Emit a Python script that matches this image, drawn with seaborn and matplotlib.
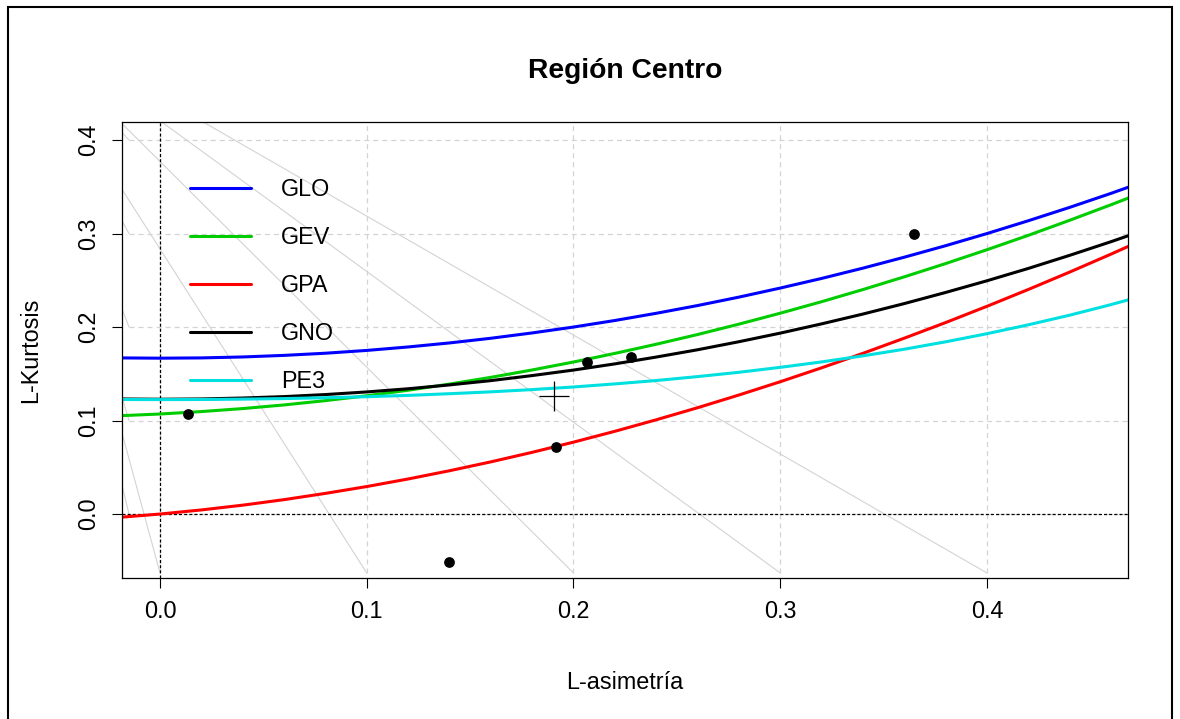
import numpy as np
import pandas as pd
import matplotlib
matplotlib.use("Agg")
import matplotlib.pyplot as plt
import seaborn as sns
from matplotlib.patches import Rectangle

# Curvas teóricas del diagrama de momentos L
tau3 = [-0.02, 0.00, 0.02, 0.04, 0.06, 0.08, 0.10, 0.12, 0.14, 0.16, 0.18, 0.20, 0.22,
        0.24, 0.26, 0.28, 0.30, 0.32, 0.34, 0.36, 0.38, 0.40, 0.42, 0.44, 0.46, 0.48]
glo = [0.1670, 0.1667, 0.1670, 0.1680, 0.1697, 0.1720, 0.1750, 0.1787, 0.1830, 0.1880, 0.1937, 0.2000, 0.2070,
       0.2147, 0.2230, 0.2320, 0.2417, 0.2520, 0.2630, 0.2747, 0.2870, 0.3000, 0.3137, 0.3280, 0.3430, 0.3587]
gev = [0.1051, 0.1070, 0.1096, 0.1128, 0.1167, 0.1213, 0.1265, 0.1324, 0.1390, 0.1462, 0.1541, 0.1626, 0.1718,
       0.1816, 0.1920, 0.2031, 0.2148, 0.2271, 0.2401, 0.2537, 0.2679, 0.2827, 0.2981, 0.3142, 0.3308, 0.3480]
gpa = [-0.0036, 0.0000, 0.0044, 0.0095, 0.0154, 0.0221, 0.0294, 0.0375, 0.0463, 0.0558, 0.0660, 0.0769, 0.0885,
       0.1008, 0.1137, 0.1273, 0.1415, 0.1564, 0.1719, 0.1881, 0.2048, 0.2222, 0.2402, 0.2588, 0.2780, 0.2978]
gno = [0.1231, 0.1228, 0.1231, 0.1241, 0.1256, 0.1278, 0.1306, 0.1340, 0.1381, 0.1427, 0.1481, 0.1540, 0.1606,
       0.1679, 0.1757, 0.1843, 0.1935, 0.2034, 0.2139, 0.2251, 0.2370, 0.2495, 0.2627, 0.2767, 0.2913, 0.3066]
pe3 = [0.1225, 0.1224, 0.1225, 0.1229, 0.1235, 0.1244, 0.1255, 0.1269, 0.1287, 0.1307, 0.1331, 0.1359, 0.1392,
       0.1428, 0.1470, 0.1516, 0.1569, 0.1627, 0.1692, 0.1763, 0.1842, 0.1929, 0.2024, 0.2127, 0.2240, 0.2362]
distribuciones = ["GLO", "GEV", "GPA", "GNO", "PE3"]
colores = ["#0000FF", "#00CD00", "#FF0000", "#000000", "#00E0E0"]

# Estaciones de la región
est_t3 = [0.0135, 0.140, 0.1915, 0.2065, 0.2278, 0.3647]
est_t4 = [0.107, -0.051, 0.0717, 0.1626, 0.168, 0.2995]

# Media regional
reg_t3 = [0.1906]
reg_t4 = [0.126]

# Líneas grises (desde un punto de fuga)
fuga_t3, fuga_t4 = -0.074, 0.54
fin_t3 = [0.0, 0.1, 0.2, 0.3, 0.4, -0.015, -0.015, -0.015, -0.015, -0.015]
fin_t4 = [-0.063, -0.063, -0.063, -0.063, -0.063, 0.0, 0.1, 0.2, 0.3, 0.4]

ticks_x = [0.0, 0.1, 0.2, 0.3, 0.4]
ticks_y = [0.0, 0.1, 0.2, 0.3, 0.4]
etiq_x = ["0.0", "0.1", "0.2", "0.3", "0.4"]
etiq_y = ["0.0", "0.1", "0.2", "0.3", "0.4"]

sns.set_theme(style="white")
plt.rcParams["font.family"] = ["Liberation Sans", "DejaVu Sans"]
plt.rcParams["lines.scale_dashes"] = False
plt.rcParams["text.color"] = "black"
plt.rcParams["axes.labelcolor"] = "black"
plt.rcParams["xtick.color"] = "black"
plt.rcParams["ytick.color"] = "black"

fig = plt.figure(figsize=(11.8, 7.19), dpi=100)
ax = fig.add_axes([122 / 1180, 1 - 578 / 719, 1006 / 1180, 456 / 719])

gris = "#D3D3D3"
# rejilla discontinua
ax.vlines(ticks_x, -0.063, 0.5, colors=gris, linewidth=0.9, linestyles=(0, (3.6, 2.9)), zorder=1)
ax.hlines(ticks_y, -0.015, 0.5, colors=gris, linewidth=0.9, linestyles=(0, (3.6, 2.9)), zorder=1)
# líneas grises
for x1, y1 in zip(fin_t3, fin_t4):
    ax.plot([fuga_t3, x1], [fuga_t4, y1], color=gris, linewidth=0.8, zorder=1)
# ejes de referencia
ax.axhline(0, color="black", linewidth=0.9, linestyle=(0, (2.2, 1.5)), zorder=1.5)
ax.axvline(0, color="black", linewidth=0.9, linestyle=(0, (2.2, 1.5)), zorder=1.5)

curvas = pd.DataFrame({
    "tau3": tau3 * 5,
    "tau4": glo + gev + gpa + gno + pe3,
    "dist": [d for d in distribuciones for _ in tau3],
})
sns.lineplot(data=curvas, x="tau3", y="tau4", hue="dist", hue_order=distribuciones,
             palette=colores, sort=False, estimator=None, linewidth=2.2, ax=ax, zorder=2)

sns.scatterplot(x=est_t3, y=est_t4, color="black", s=60, edgecolor="black", linewidth=0, ax=ax, zorder=3)
sns.scatterplot(x=reg_t3, y=reg_t4, color="black", marker="+", s=480, linewidth=0.9, ax=ax, zorder=3)

handles, labels = ax.get_legend_handles_labels()
ax.legend(handles[:5], labels[:5], loc="upper left", bbox_to_anchor=(190 / 1180, 1 - 178 / 719),
          bbox_transform=fig.transFigure, frameon=False, fontsize=16.8, handlelength=2.6,
          handletextpad=1.3, labelspacing=1.07, borderpad=0, borderaxespad=0)

ax.set_xlim(-0.01838, 0.4682)
ax.set_ylim(-0.0684, 0.4193)
ax.set_xticks(ticks_x)
ax.set_xticklabels(etiq_x, fontsize=16.8)
ax.set_yticks(ticks_y)
ax.set_yticklabels(etiq_y, fontsize=16.8, rotation=90, va="center")
ax.tick_params(axis="both", direction="out", length=7.5, width=0.8, color="black", pad=8)
ax.tick_params(axis="both", bottom=True, left=True)
for s in ax.spines.values():
    s.set_color("black")
    s.set_linewidth(0.9)

ax.set_xlabel("L-asimetría", fontsize=16.8)
ax.xaxis.set_label_coords(0.5, -0.205)
ax.set_ylabel("L-Kurtosis", fontsize=16.8)
ax.yaxis.set_label_coords(-0.079, 0.5)
ax.set_title("Región Centro", fontsize=20.3, fontweight="bold", pad=31.5)

fig.patches.append(Rectangle((8 / 1180, -0.1), 1164 / 1180, 1.1 - 7 / 719, transform=fig.transFigure,
                             fill=False, edgecolor="black", linewidth=1.5))

fig.savefig("out.png", dpi=100)
